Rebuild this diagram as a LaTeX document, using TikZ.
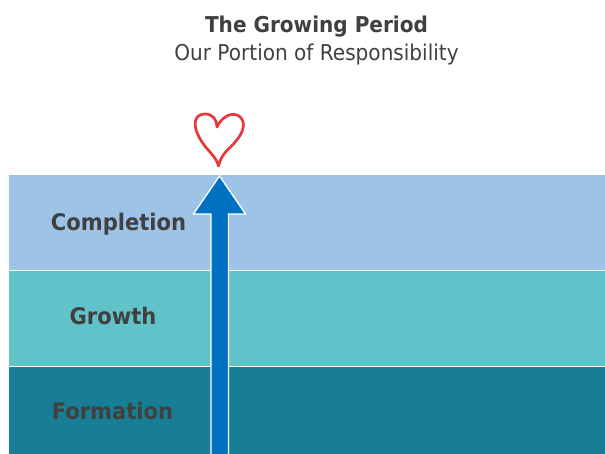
\documentclass[tikz,border=0pt]{standalone}
\usepackage{fontspec}
\setmainfont{DejaVu Sans}[FakeStretch=0.92]
\definecolor{txt}{HTML}{404040}
\definecolor{bandA}{HTML}{9DC3E6}
\definecolor{bandB}{HTML}{62C2CA}
\definecolor{bandC}{HTML}{177E95}
\definecolor{arrowblue}{HTML}{0070C0}
\definecolor{heartred}{HTML}{E8383B}
\tikzset{
  bandbox/.style={draw=none,inner sep=0pt,outer sep=0pt,anchor=north west,minimum width=596pt},
  bandlabel/.style={text=txt,font=\fontsize{22.9pt}{26pt}\selectfont\bfseries,inner sep=0pt},
  titletext/.style={text=txt,inner sep=0pt},
}
\begin{document}
\begin{tikzpicture}[x=1pt,y=-1pt]
\useasboundingbox (0,0) rectangle (605,454);
\node[bandbox,fill=bandA,minimum height=95pt] (completion) at (9,175) {};
\node[bandbox,fill=bandB,minimum height=95pt] (growth) at (9,271) {};
\node[bandbox,fill=bandC,minimum height=87pt] (formation) at (9,367) {};
\node[bandlabel,anchor=base] (lc) at (118.5,231) {Completion};
\node[bandlabel,anchor=base] (lg) at (113,324) {Growth};
\node[bandlabel,anchor=base] (lf) at (112.5,419) {Formation};
\node[titletext,anchor=base,font=\fontsize{21.8pt}{25pt}\selectfont\bfseries] (t1) at (316.5,33) {The Growing Period};
\node[titletext,anchor=base,font=\fontsize{21.8pt}{25pt}\selectfont] (t2) at (316.5,60.7) {Our Portion of Responsibility};
\draw[fill=arrowblue,draw=white,line width=1.3pt,line join=miter]
  (211,454) -- (211,214) -- (193.5,214) -- (219.5,176) -- (245.5,214) -- (228.5,214) -- (228.5,454);
\draw[heartred,line width=2.7pt,line cap=round,line join=round]
  (218.5,166) .. controls (216,155) and (205,150) .. (198,135)
  .. controls (192,122) and (196,114) .. (205,114)
  .. controls (213,114) and (217,120) .. (217,127)
  .. controls (221,118) and (231,111) .. (239,116)
  .. controls (247,122) and (243,133) .. (236,141)
  .. controls (230,149) and (222,152) .. (218.5,166);
\end{tikzpicture}
\end{document}
